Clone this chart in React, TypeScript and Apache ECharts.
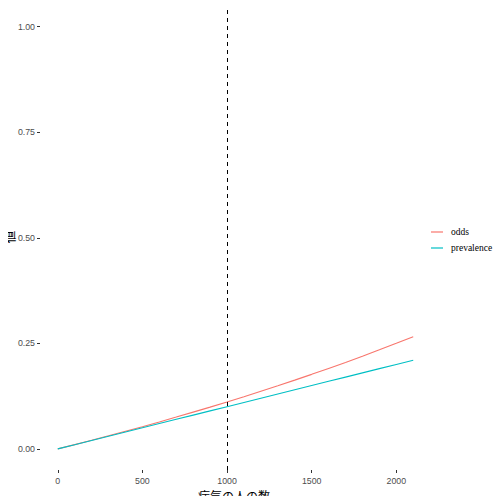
import React, { useEffect, useRef } from 'react';
import * as echarts from 'echarts';

// 病気の人の数 (0〜2100, 100刻み)
const counts = [0, 100, 200, 300, 400, 500, 600, 700, 800, 900, 1000, 1100, 1200, 1300, 1400, 1500, 1600, 1700, 1800, 1900, 2000, 2100];
const oddsValues = [0, 0.0101, 0.0204, 0.0309, 0.0417, 0.0526, 0.0638, 0.0753, 0.087, 0.0989, 0.1111, 0.1236, 0.1364, 0.1494, 0.1628, 0.1765, 0.1905, 0.2048, 0.2195, 0.2346, 0.25, 0.2658];
const prevalenceValues = [0, 0.01, 0.02, 0.03, 0.04, 0.05, 0.06, 0.07, 0.08, 0.09, 0.1, 0.11, 0.12, 0.13, 0.14, 0.15, 0.16, 0.17, 0.18, 0.19, 0.2, 0.21];
const xTicks = [0, 500, 1000, 1500, 2000];
const yTicks = [0, 0.25, 0.5, 0.75, 1];
const cutoff = 1000;
const xTitle = '病気の人の数';
const yTitle = '値';

const App: React.FC = () => {
    const chartRef = useRef<HTMLDivElement>(null);

    useEffect(() => {
        if (!chartRef.current) return;
        const chart = echarts.init(chartRef.current, null, { renderer: 'svg' });

        const tickLabel = { color: '#4D4D4D', fontSize: 8.8, fontFamily: 'Liberation Sans', lineHeight: 9 };
        const titleFont = { fill: '#000000', fontSize: 12, fontFamily: 'Noto Sans CJK JP', lineHeight: 12 };

        chart.setOption({
            animation: false,
            backgroundColor: '#FFFFFF',
            grid: { left: 40, right: 73, top: 5.5, bottom: 34, containLabel: false, outerBoundsMode: 'none' },
            legend: {
                orient: 'vertical',
                left: 431,
                top: 227,
                padding: 0,
                itemWidth: 12,
                itemHeight: 1.2,
                itemGap: 6,
                icon: 'rect',
                data: ['odds', 'prevalence'],
                textStyle: { fontFamily: 'Liberation Serif', fontSize: 9.5, color: '#000000', padding: [0, 0, 0, 3] },
            },
            // 軸タイトル
            graphic: [
                {
                    type: 'text',
                    x: 234,
                    y: 495,
                    style: { ...titleFont, text: xTitle, textAlign: 'center', textVerticalAlign: 'middle' },
                },
                {
                    type: 'text',
                    x: 9,
                    y: 237,
                    rotation: Math.PI / 2,
                    style: { ...titleFont, fontSize: 12.5, text: yTitle, textAlign: 'center', textVerticalAlign: 'middle' },
                },
            ],
            xAxis: {
                type: 'value',
                min: -105,
                max: 2205,
                axisLine: { show: false, onZero: false },
                splitLine: { show: false },
                axisTick: { show: true, length: 3, customValues: xTicks, lineStyle: { color: '#333333' } },
                axisLabel: { ...tickLabel, margin: 6, customValues: xTicks, formatter: (v: number) => String(v) },
            },
            yAxis: {
                type: 'value',
                min: -0.05,
                max: 1.05,
                axisLine: { show: false, onZero: false },
                splitLine: { show: false },
                axisTick: { show: true, length: 3, customValues: yTicks, lineStyle: { color: '#333333' } },
                axisLabel: { ...tickLabel, margin: 5, customValues: yTicks, formatter: (v: number) => v.toFixed(2) },
            },
            series: [
                {
                    name: 'odds',
                    type: 'line',
                    data: counts.map((c, i) => [c, oddsValues[i]]),
                    showSymbol: false,
                    color: '#F8766D',
                    lineStyle: { width: 1.1, color: '#F8766D' },
                },
                {
                    name: 'prevalence',
                    type: 'line',
                    data: counts.map((c, i) => [c, prevalenceValues[i]]),
                    showSymbol: false,
                    color: '#00BFC4',
                    lineStyle: { width: 1.1, color: '#00BFC4' },
                    markLine: {
                        silent: true,
                        symbol: 'none',
                        label: { show: false },
                        lineStyle: { color: '#000000', type: [4, 4], width: 1 },
                        data: [{ xAxis: cutoff }],
                    },
                },
            ],
        });

        return () => {
            chart.dispose();
        };
    }, []);

    return <div ref={chartRef} style={{ width: 504, height: 504, margin: -8 }} />;
};

export default App;
